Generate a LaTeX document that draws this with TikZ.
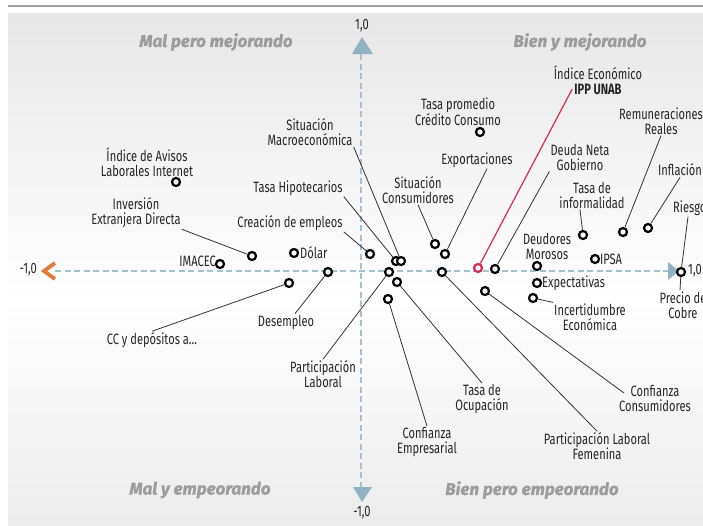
\documentclass[tikz,border=0pt]{standalone}
\usepackage{fontspec}
\setmainfont[FakeStretch=0.74]{Fira Sans}
\newfontfamily\quadfont[FakeBold=1.2]{Fira Sans}
\usetikzlibrary{calc}
\definecolor{axisblue}{HTML}{A3C2CC}
\definecolor{arrowblue}{HTML}{8FB3C2}
\definecolor{chevron}{HTML}{E27B3E}
\definecolor{ippred}{HTML}{D42A4C}
\definecolor{quadgray}{HTML}{9C9C9C}
\tikzset{
	dot/.style={circle, draw=black, line width=2.2pt, fill=white, minimum size=8pt, inner sep=0pt},
	lbl/.style={font=\fontsize{15}{15}\selectfont, align=center, inner sep=1pt, text=black!85},
	conn/.style={draw=black!80, line width=0.8pt},
	quad/.style={font=\quadfont\bfseries\itshape\fontsize{17}{18}\selectfont, text=quadgray},
	axisline/.style={axisblue, line width=1.5pt, dash pattern=on 6pt off 3.5pt},
}

\begin{document}
\begin{tikzpicture}[x=1pt, y=-1pt]
		%%%%% START %%%%%
		\useasboundingbox (0, 0) rectangle (703, 525);
		
		\shade[top color=gray!19, bottom color=white] (8, 13) rectangle (703, 300);
		\shade[top color=white, bottom color=gray!15] (8, 300) rectangle (703, 525);
		\draw[gray!75, line width=1.3pt] (8, 6) -- (703, 6);
		
		% axes
		\draw[axisline] (361, 54) -- (361, 487);
		\draw[axisline] (55, 271) -- (668, 271);
		\fill[arrowblue] (352, 54) -- (362, 37) -- (373, 54) -- cycle;
		\fill[arrowblue] (353, 487) -- (362, 502) -- (372, 487) -- cycle;
		\fill[arrowblue] (668, 262) -- (679, 271) -- (668, 280) -- cycle;
		\draw[chevron, line width=3.8pt] (55, 263) -- (44, 271) -- (55, 279);
		
		\node[lbl] (yTop) at (362, 26) {1,0};
		\node[lbl] (yBot) at (362, 513) {-1,0};
		\node[lbl, anchor=east] (xLeft) at (38, 270) {-1,0};
		
		% quadrants
		\node[quad] (qMalMej) at (216, 42) {Mal pero mejorando};
		\node[quad] (qBienMej) at (580, 42) {Bien y mejorando};
		\node[quad] (qMalEmp) at (200, 490) {Mal y empeorando};
		\node[quad] (qBienEmp) at (532, 490) {Bien pero empeorando};
		
		% points
		\node[dot] (pAvisos) at (176, 182) {};
		\node[dot] (pInversion) at (252, 256) {};
		\node[dot] (pDolar) at (294, 253) {};
		\node[dot] (pImacec) at (220, 264) {};
		\node[dot] (pDesempleo) at (328, 272) {};
		\node[dot] (pCC) at (289, 283) {};
		\node[dot] (pCreacion) at (370, 254) {};
		\node[dot] (pHipot) at (396, 261) {};
		\node[dot] (pMacro) at (401, 261) {};
		\node[dot] (pPartLab) at (389, 272) {};
		\node[dot] (pOcup) at (397, 282) {};
		\node[dot] (pEmpres) at (388, 299) {};
		\node[dot] (pSitCons) at (435, 244) {};
		\node[dot] (pExport) at (445, 254) {};
		\node[dot] (pFemenina) at (442, 272) {};
		\node[dot, draw=ippred] (pIPP) at (478, 268) {};
		\node[dot] (pDeuda) at (495, 269) {};
		\node[dot] (pConfCons) at (485, 291) {};
		\node[dot] (pTasaProm) at (480, 132) {};
		\node[dot] (pInformal) at (583, 235) {};
		\node[dot] (pRemun) at (623, 232) {};
		\node[dot] (pInflacion) at (648, 228) {};
		\node[dot] (pIPSA) at (595, 259) {};
		\node[dot] (pMorosos) at (537, 266) {};
		\node[dot] (pExpect) at (537, 283) {};
		\node[dot] (pIncert) at (533, 298) {};
		\node[dot] (pCobre) at (681, 272) {};
		
		% labels
		\node[lbl] (lAvisos) at (147, 162) {Índice de Avisos\\Laborales Internet};
		\node[lbl] (lInversion) at (136, 213) {Inversión\\Extranjera Directa};
		\node[lbl] (lMacro) at (310, 132) {Situación\\Macroeconómica};
		\node[lbl] (lHipot) at (298, 188) {Tasa Hipotecarios};
		\node[lbl] (lCreacion) at (290, 223) {Creación de empleos};
		\node[lbl, anchor=west] (lDolar) at (299, 253) {Dólar};
		\node[lbl, anchor=east] (lImacec) at (217, 261) {IMACEC};
		\node[lbl] (lCC) at (152, 340) {CC y depósitos a…};
		\node[lbl] (lDesempleo) at (286, 322) {Desempleo};
		\node[lbl] (lPartLab) at (323, 374) {Participación\\Laboral};
		\node[lbl] (lTasaProm) at (458, 112) {Tasa promedio\\Crédito Consumo};
		\node[lbl] (lExport) at (477, 160) {Exportaciones};
		\node[lbl] (lSitCons) at (418, 190) {Situación\\Consumidores};
		\node[lbl, inner sep=0pt] (lIPPa) at (598, 73) {Índice Económico};
		\node[lbl, inner sep=0pt, font=\fontsize{15}{15}\selectfont\bfseries] (lIPPb) at (598, 89) {IPP UNAB};
		\node[lbl] (lDeuda) at (580, 157) {Deuda Neta\\Gobierno};
		\node[lbl] (lInformal) at (592, 195) {Tasa de\\informalidad};
		\node[lbl] (lRemun) at (661, 121) {Remuneraciones\\Reales};
		\node[lbl, anchor=west] (lInflacion) at (657, 170) {Inflación};
		\node[lbl, anchor=west] (lRiesgo) at (672, 208) {Riesgo};
		\node[lbl] (lMorosos) at (547, 246) {Deudores\\Morosos};
		\node[lbl, anchor=west] (lIPSA) at (599, 259) {IPSA};
		\node[lbl, anchor=west] (lExpect) at (541, 283) {Expectativas};
		\node[lbl] (lIncert) at (590, 317) {Incertidumbre\\Económica};
		\node[lbl] (lCobre) at (683, 305) {Precio de\\Cobre};
		\node[lbl, anchor=west] (xRight) at (687, 271) {1,0};
		\node[lbl] (lConfCons) at (655, 398) {Confianza\\Consumidores};
		\node[lbl] (lFemenina) at (597, 446) {Participación Laboral\\Femenina};
		\node[lbl] (lOcup) at (482, 399) {Tasa de\\Ocupación};
		\node[lbl] (lEmpres) at (427, 442) {Confianza\\Empresarial};
		
		% connectors
		\draw[conn] (lInversion.south east) -- (pInversion);
		\draw[conn] (lMacro.south east) -- (pMacro);
		\draw[conn] (lHipot.south east) -- (pHipot);
		\draw[conn] (lCreacion.south east) -- (pCreacion);
		\draw[conn] (lCC.north) -- (pCC);
		\draw[conn] ([xshift=9pt]lDesempleo.north) -- (pDesempleo);
		\draw[conn] (lPartLab.north) -- (pPartLab);
		\draw[conn] ([xshift=10pt]lExport.south) -- (pExport);
		\draw[conn] (lSitCons.south) -- (pSitCons);
		\draw[ippred, line width=1.2pt] ([xshift=-2pt]lIPPb.west) -- (pIPP);
		\draw[conn] (lDeuda.south west) -- (pDeuda);
		\draw[conn] ([xshift=-12pt]lInformal.south) -- (pInformal);
		\draw[conn] (lRemun.south) -- (pRemun);
		\draw[conn] (lInflacion.south) -- (pInflacion);
		\draw[conn] ([xshift=16pt]lRiesgo.south west) -- (pCobre);
		\draw[conn] (pCobre) -- ([xshift=-3pt]lCobre.north);
		\draw[conn] (pIncert) -- (lIncert.north west);
		\draw[conn] ([xshift=6pt, yshift=5pt]lConfCons.west) -- (pConfCons);
		\draw[conn] (lFemenina.north) -- (pFemenina);
		\draw[conn] (lOcup.north) -- (pOcup);
		\draw[conn] (lEmpres.north) -- (pEmpres);
		
		%%%%% END %%%%%
\end{tikzpicture}
\end{document}
